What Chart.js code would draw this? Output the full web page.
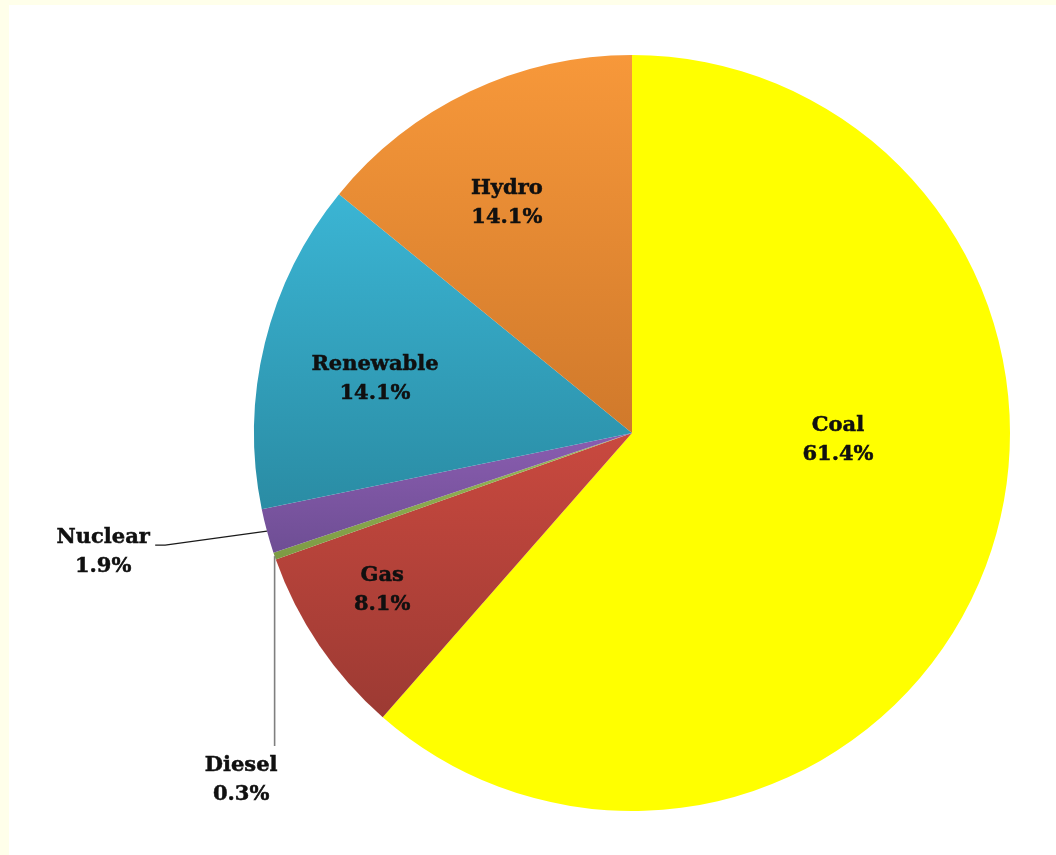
<!DOCTYPE html>
<html>
<head>
<meta charset="utf-8">
<title>Generation mix</title>
<script src="https://cdn.jsdelivr.net/npm/chart.js@4.4.1/dist/chart.umd.min.js"></script>
<style>
  html, body { margin: 0; padding: 0; background: #FFFFEA; }
  #wrap { position: absolute; left: 9px; top: 5px; right: 0; bottom: 0; background: #ffffff; }
</style>
</head>
<body>
<div id="wrap"><canvas id="pieChart"></canvas></div>
<script>
// Data
const categories = ['Coal', 'Gas', 'Diesel', 'Nuclear', 'Renewable', 'Hydro'];
const shares = [61.4, 8.1, 0.3, 1.9, 14.1, 14.1];

// Slice colours (top / bottom of the gradient)
const topColors = ['#FFFF00', '#C9493F', '#9BBB59', '#8A5DB0', '#3BB5D4', '#F7983A'];
const bottomColors = ['#FFFF00', '#9C3A33', '#7C9A44', '#6E4E94', '#2A8CA4', '#D0792B'];

// Label placement, in units of the pie radius from its centre
const labelOffsets = [
    [0.545, 0.019],   // Coal
    [-0.661, 0.415],  // Gas
    [-1.034, 0.918],  // Diesel
    [-1.399, 0.315],  // Nuclear
    [-0.680, -0.143], // Renewable
    [-0.331, -0.608]  // Hydro
];

const FONT = 'bold 21px "DejaVu Serif"';
const LINE_H = 29;

function sliceGradient(context) {
    const chart = context.chart;
    const i = context.dataIndex;
    const area = chart.chartArea;
    if (!area) return topColors[i];
    const cx = (area.left + area.right) / 2;
    const cy = (area.top + area.bottom) / 2;
    const r = Math.min(area.right - area.left, area.bottom - area.top) / 2;
    const total = shares.reduce((a, b) => a + b, 0);
    let before = 0;
    for (let k = 0; k < i; k++) before += shares[k];
    const a0 = before / total * Math.PI * 2;
    const a1 = (before + shares[i]) / total * Math.PI * 2;
    let minY = cy, maxY = cy;
    for (let s = 0; s <= 40; s++) {
        const a = a0 + (a1 - a0) * s / 40;
        const y = cy - r * Math.cos(a);
        minY = Math.min(minY, y);
        maxY = Math.max(maxY, y);
    }
    const g = chart.ctx.createLinearGradient(0, minY, 0, maxY);
    g.addColorStop(0, topColors[i]);
    g.addColorStop(1, bottomColors[i]);
    return g;
}

// Draws the data labels and the two leader lines
const labelPlugin = {
    id: 'sliceLabels',
    afterDatasetsDraw(chart) {
        const ctx = chart.ctx;
        const meta = chart.getDatasetMeta(0);
        const first = meta.data[0];
        const cx = first.x, cy = first.y, r = first.outerRadius;

        ctx.save();
        // leader lines for the thin slices
        meta.data.forEach((arc, i) => {
            if (categories[i] !== 'Nuclear' && categories[i] !== 'Diesel') return;
            const mid = (arc.startAngle + arc.endAngle) / 2;
            const ex = cx + r * Math.cos(mid);
            const ey = cy + r * Math.sin(mid);
            const lx = cx + labelOffsets[i][0] * r;
            const ly = cy + labelOffsets[i][1] * r;
            ctx.beginPath();
            if (categories[i] === 'Nuclear') {
                ctx.strokeStyle = '#1a1a1a';
                ctx.lineWidth = 1.3;
                ctx.moveTo(lx + 52, ly - 7);
                ctx.lineTo(lx + 62, ly - 7);
                ctx.lineTo(ex, ey);
            } else {
                ctx.strokeStyle = '#7f7f7f';
                ctx.lineWidth = 1.6;
                ctx.moveTo(ex, ey);
                ctx.lineTo(ex, ly - 34);
            }
            ctx.stroke();
        });

        ctx.font = FONT;
        ctx.fillStyle = '#101010';
        ctx.strokeStyle = '#101010';
        ctx.lineWidth = 0.5;
        ctx.textAlign = 'center';
        ctx.textBaseline = 'middle';
        categories.forEach((name, i) => {
            const x = cx + labelOffsets[i][0] * r;
            const y = cy + labelOffsets[i][1] * r;
            const pct = shares[i].toFixed(1) + '%';
            ctx.fillText(name, x, y - LINE_H / 2);
            ctx.strokeText(name, x, y - LINE_H / 2);
            ctx.fillText(pct, x, y + LINE_H / 2);
            ctx.strokeText(pct, x, y + LINE_H / 2);
        });
        ctx.restore();
    }
};

document.addEventListener('DOMContentLoaded', function() {
    const pieCtx = document.getElementById('pieChart').getContext('2d');
    const pieChart = new Chart(pieCtx, {
        type: 'pie',
        data: {
            labels: categories,
            datasets: [{
                data: shares,
                backgroundColor: sliceGradient,
                borderWidth: 0
            }]
        },
        options: {
            responsive: true,
            maintainAspectRatio: false,
            animation: false,
            layout: {
                padding: { top: 50, bottom: 44, left: 245, right: 46 }
            },
            plugins: {
                legend: { display: false },
                tooltip: { enabled: false }
            }
        },
        plugins: [labelPlugin]
    });
});
</script>
</body>
</html>
